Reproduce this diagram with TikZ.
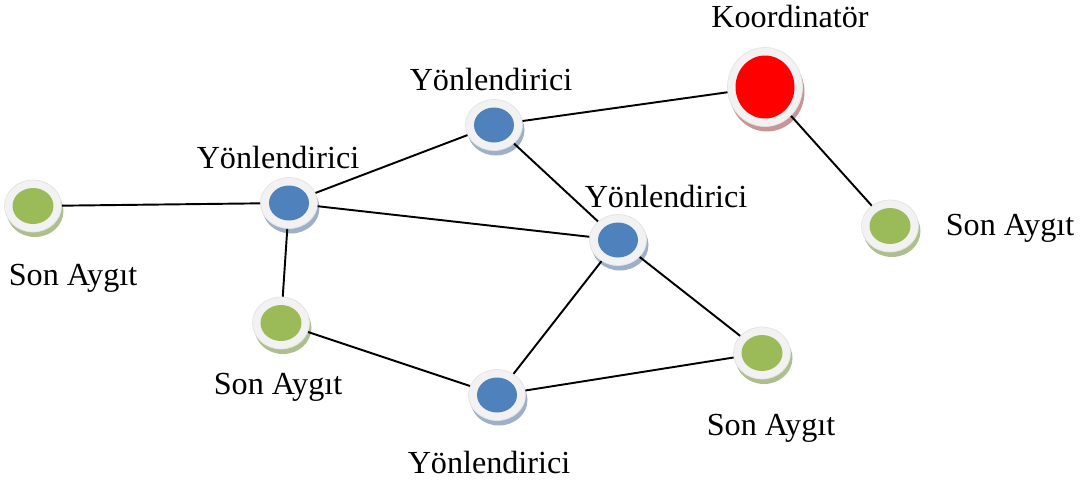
\documentclass[tikz,border=0pt]{standalone}
\usepackage{fontspec}
\setmainfont{Liberation Serif}
\usetikzlibrary{shapes.geometric, shadows}
\definecolor{rtblue}{HTML}{4F81BD}
\definecolor{rtshade}{HTML}{9DAFC9}
\definecolor{endgreen}{HTML}{9BBB59}
\definecolor{endshade}{HTML}{AEBF8C}
\definecolor{coordred}{HTML}{FF0000}
\definecolor{coordshade}{HTML}{C99494}
\definecolor{ringgray}{HTML}{F2F2F2}

\begin{document}
\begin{tikzpicture}[x=0.02cm, y=-0.02cm,
  dev/.style n args={4}{ellipse, draw=gray!22, line width=0.4pt, fill=ringgray, inner sep=0pt,
    path picture={\fill[#1] (path picture bounding box.center) ellipse (#3 and #4);},
    drop shadow={shadow xshift=0.04cm, shadow yshift=-0.1cm, fill=#2, opacity=1}},
  router/.style={dev={rtblue}{rtshade}{0.4cm}{0.35cm}, minimum width=1.14cm, minimum height=1.02cm},
  enddev/.style={dev={endgreen}{endshade}{0.41cm}{0.36cm}, minimum width=1.14cm, minimum height=1.04cm},
  coordnode/.style={dev={coordred}{coordshade}{0.59cm}{0.63cm}, minimum width=1.5cm, minimum height=1.58cm},
  lbl/.style={font=\fontsize{18.3}{21}\selectfont, anchor=base, inner sep=0pt},
  link/.style={line width=1.1pt}]

\useasboundingbox (0,0) rectangle (1088,484);

% Devices
\node[coordnode] (coord) at (765,87) {};
\node[router] (r1) at (494,125) {};
\node[router] (r2) at (289,203) {};
\node[router] (r3) at (618,240) {};
\node[router] (r4) at (497,395) {};
\node[enddev] (e1) at (33,206) {};
\node[enddev] (e2) at (890,226) {};
\node[enddev] (e3) at (281,323) {};
\node[enddev] (e4) at (762,353) {};

% Labels
\node[lbl] (coordl) at (790,27) {Koordinatör};
\node[lbl] (r1l) at (491,90) {Yönlendirici};
\node[lbl] (r2l) at (278,168) {Yönlendirici};
\node[lbl] (r3l) at (666,207) {Yönlendirici};
\node[lbl] (r4l) at (489,473) {Yönlendirici};
\node[lbl] (e1l) at (73,285) {Son Aygıt};
\node[lbl] (e2l) at (1010,235) {Son Aygıt};
\node[lbl] (e3l) at (278,394) {Son Aygıt};
\node[lbl] (e4l) at (771,435) {Son Aygıt};

% Links
\draw[link] (e1) -- (r2);
\draw[link] (r2) -- (r1);
\draw[link] (r2) -- (r3);
\draw[link] (r2) -- (e3);
\draw[link] (r1) -- (coord);
\draw[link] (r1) -- (r3);
\draw[link] (r3) -- (r4);
\draw[link] (r3) -- (e4);
\draw[link] (e3) -- (r4);
\draw[link] (r4) -- (e4);
\draw[link] (coord) -- (e2);

\end{tikzpicture}
\end{document}
